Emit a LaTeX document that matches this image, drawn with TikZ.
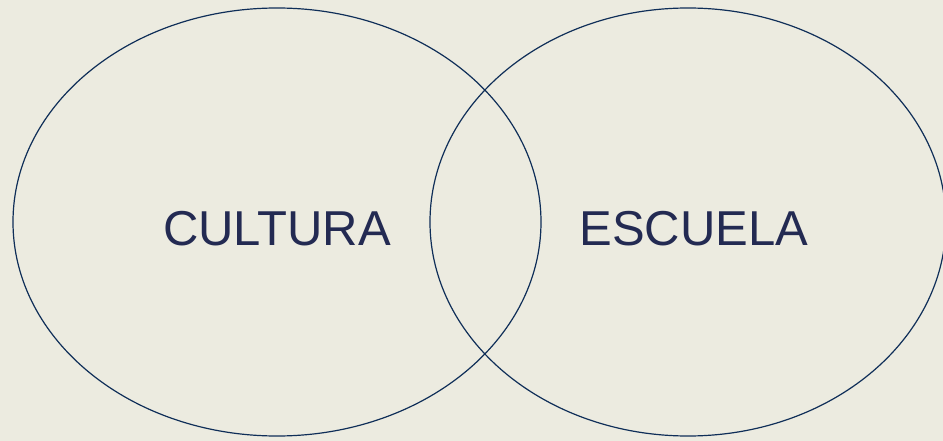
\documentclass[tikz,border=0pt]{standalone}
\usepackage{fontspec}
\setmainfont{Liberation Sans}
\definecolor{bg}{HTML}{ECEBE0}
\definecolor{ring}{HTML}{0F2E58}
\definecolor{txt}{HTML}{232A52}
\tikzset{
  ring/.style={draw=ring, line width=1.2pt},
  lbl/.style={text=txt, font=\fontsize{49}{58}\selectfont, inner sep=0pt}
}
\begin{document}
\begin{tikzpicture}[x=1pt,y=-1pt]
\fill[bg] (0,0) rectangle (943,441);
\useasboundingbox (0,0) rectangle (943,441);
\draw[ring] (277,222) ellipse [x radius=264, y radius=214];
\draw[ring] (688,222) ellipse [x radius=258, y radius=214];
\node[lbl] (cultura) at (277,229) {CULTURA};
\node[lbl] (escuela) at (694,229) {ESCUELA};
\end{tikzpicture}
\end{document}
